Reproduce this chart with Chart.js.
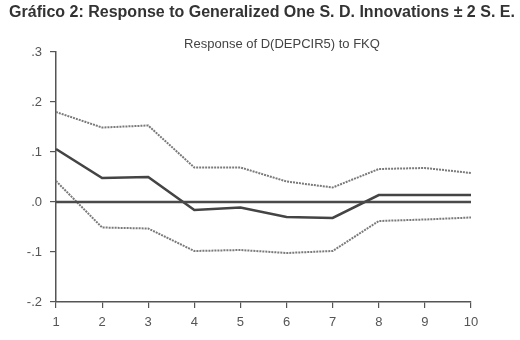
<!doctype html>
<html lang="en">
<head>
<meta charset="utf-8">
<title>Gráfico 2</title>
<script src="https://cdn.jsdelivr.net/npm/chart.js@4.4.1/dist/chart.umd.min.js"></script>
<style>
  body { margin: 0; background: #fff; }
  .box { position: relative; width: 520px; height: 340px; }
</style>
</head>
<body>
<div class="box"><canvas id="myChart"></canvas></div>

<script>
// data
const periods = ['1', '2', '3', '4', '5', '6', '7', '8', '9', '10'];
const response = [0.106, 0.048, 0.050, -0.016, -0.011, -0.030, -0.032, 0.014, 0.014, 0.014];
const upperBand = [0.180, 0.149, 0.153, 0.069, 0.069, 0.041, 0.029, 0.066, 0.068, 0.058];
const lowerBand = [0.042, -0.051, -0.053, -0.098, -0.096, -0.102, -0.098, -0.038, -0.035, -0.031];
const zeroLine = [0, 0, 0, 0, 0, 0, 0, 0, 0, 0];
const yTickLabels = ['-.2', '-.1', '.0', '.1', '.2', '.3'];

const TITLE = 'Gráfico 2: Response to Generalized One S. D. Innovations ± 2 S. E.';
const SUBTITLE = 'Response of D(DEPCIR5) to FKQ';

// titles drawn at fixed spots, like the original
var headings = {
  id: 'headings',
  afterDraw: function(chart) {
    var c = chart.ctx;
    c.save();
    c.fillStyle = '#333';
    c.textAlign = 'center';
    c.textBaseline = 'middle';
    c.font = 'bold 16px "Liberation Sans", Arial, sans-serif';
    c.fillText(TITLE, 262, 13, 506);
    c.fillStyle = '#444';
    c.font = '13px "Liberation Sans", Arial, sans-serif';
    c.fillText(SUBTITLE, 282, 44);
    c.restore();
  }
};

var tickFont = { size: 13, family: '"Liberation Sans", Arial, sans-serif' };

var ctx = document.getElementById('myChart').getContext('2d');
var chart = new Chart(ctx, {
  type: 'line',
  data: {
    labels: periods,
    datasets: [
      { label: 'zero', data: zeroLine, borderColor: '#4a4a4a', borderWidth: 2.5 },
      { label: 'upper', data: upperBand, borderColor: '#7a7a7a', borderWidth: 2, borderDash: [2, 1] },
      { label: 'lower', data: lowerBand, borderColor: '#7a7a7a', borderWidth: 2, borderDash: [2, 1] },
      { label: 'response', data: response, borderColor: '#444', borderWidth: 2.6 }
    ]
  },
  options: {
    responsive: true,
    maintainAspectRatio: false,
    animation: false,
    layout: { padding: { top: 52, right: 49, bottom: 0, left: 0 } },
    elements: { point: { radius: 0 }, line: { tension: 0 } },
    plugins: { legend: { display: false }, tooltip: { enabled: false } },
    scales: {
      x: {
        offset: false,
        grid: { drawOnChartArea: false, drawTicks: true, tickLength: 6, color: '#555', lineWidth: 1.2 },
        border: { display: true, color: '#555', width: 1.5 },
        ticks: { color: '#555', padding: 7, font: tickFont, maxRotation: 0 },
        afterFit: function(scale) { scale.height = 38; }
      },
      y: {
        min: -0.2,
        max: 0.3,
        grid: { drawOnChartArea: false, drawTicks: true, tickLength: 6, color: '#555', lineWidth: 1.2 },
        border: { display: true, color: '#555', width: 1.5 },
        ticks: {
          stepSize: 0.1,
          color: '#555',
          padding: 8,
          font: tickFont,
          callback: function(value, index) { return yTickLabels[index]; }
        },
        afterFit: function(scale) { scale.width = 56; }
      }
    }
  },
  plugins: [headings]
});
</script>
</body>
</html>
